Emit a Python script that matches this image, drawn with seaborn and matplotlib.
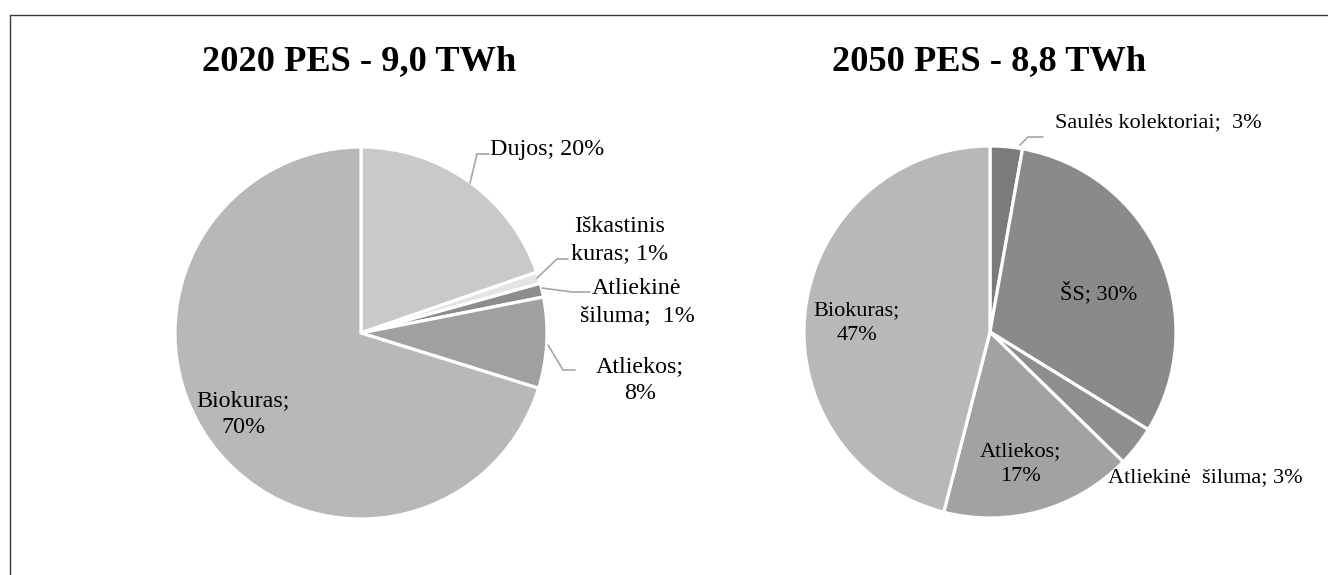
import matplotlib
matplotlib.use("Agg")
import matplotlib.pyplot as plt
import seaborn as sns
from matplotlib.lines import Line2D

# ---------------- data ----------------
title_2020 = "2020 PES - 9,0 TWh"
title_2050 = "2050 PES - 8,8 TWh"

cats_2020 = ["Dujos", "Iškastinis kuras", "Atliekinė šiluma", "Atliekos", "Biokuras"]
vals_2020 = [19.7, 1.0, 1.2, 7.9, 70.2]
labels_2020 = ["Dujos; 20%", "Iškastinis\nkuras; 1%", "Atliekinė\nšiluma;  1%", "Atliekos;\n8%", "Biokuras;\n70%"]

cats_2050 = ["Saulės kolektoriai", "ŠS", "Atliekinė šiluma", "Atliekos", "Biokuras"]
vals_2050 = [2.8, 31.0, 3.5, 16.7, 46.0]
labels_2050 = ["Saulės kolektoriai;  3%", "ŠS; 30%", "Atliekinė  šiluma; 3%", "Atliekos;\n17%", "Biokuras;\n47%"]

# ---------------- style ----------------
sns.set_theme(style="white")
plt.rcParams["font.family"] = ["Liberation Serif", "DejaVu Serif"]

colors_2020 = ["#c9c9c9", "#e4e4e4", "#8c8c8c", "#a0a0a0", "#b8b8b8"]
colors_2050 = ["#7b7b7b", "#8a8a8a", "#8e8e8e", "#a2a2a2", "#b8b8b8"]

W, H = 1328, 575
fig = plt.figure(figsize=(W / 100, H / 100), dpi=100)
ax = fig.add_axes([0, 0, 1, 1])


def Y(py):
    return H - py


wp = dict(edgecolor="white", linewidth=2.3)
ax.pie(vals_2020, colors=colors_2020, startangle=90, counterclock=False,
       center=(361, Y(333)), radius=186, wedgeprops=wp)
ax.pie(vals_2050, colors=colors_2050, startangle=90, counterclock=False,
       center=(990, Y(332)), radius=186, wedgeprops=wp)

ax.set_xlim(0, W)
ax.set_ylim(0, H)
ax.set_aspect("equal")
ax.axis("off")

fs1 = 17.3
fs2 = 16.0
tfs = 26.2
# titles
ax.text(359, Y(62), title_2020, ha="center", va="center", fontsize=tfs, fontweight="bold", color="black")
ax.text(989, Y(62), title_2050, ha="center", va="center", fontsize=tfs, fontweight="bold", color="black")

# label positions (layout)
lab_pos_2020 = [(490, 150, "left"), (620, 240, "center"), (637, 302, "center"),
                (640, 380, "center"), (243, 414, "center")]
lab_pos_2050 = [(1055, 123, "left"), (1099, 293, "center"), (1108, 478, "left"),
                (1020, 464, "center"), (857, 323, "center")]

for (x, y, ha), t in zip(lab_pos_2020, labels_2020):
    ax.text(x, Y(y), t, ha=ha, va="center", fontsize=fs1, linespacing=1.35, color="black")
for (x, y, ha), t in zip(lab_pos_2050, labels_2050):
    ax.text(x, Y(y), t, ha=ha, va="center", fontsize=fs2, linespacing=1.4, color="black")

# leader lines (layout)
leaders = [
    [(470, 183), (477, 154), (489, 154)],
    [(537, 278), (557, 259), (568, 259)],
    [(542, 288), (572, 292), (590, 292)],
    [(548, 345), (563, 370), (575, 370)],
    [(1020, 145), (1028, 137), (1043, 137)],
]
for pts in leaders:
    ax.plot([p[0] for p in pts], [Y(p[1]) for p in pts], color="#a6a6a6", lw=1.2,
            solid_joinstyle="miter")

# outer frame (cut at right and bottom)
fig.add_artist(Line2D([10 / W, 10 / W], [0, Y(15) / H], transform=fig.transFigure,
                      color="#3a3a3a", lw=1.0))
fig.add_artist(Line2D([10 / W, 1], [Y(15) / H, Y(15) / H], transform=fig.transFigure,
                      color="#3a3a3a", lw=1.0))

fig.savefig("out.png", dpi=100, facecolor="white")
